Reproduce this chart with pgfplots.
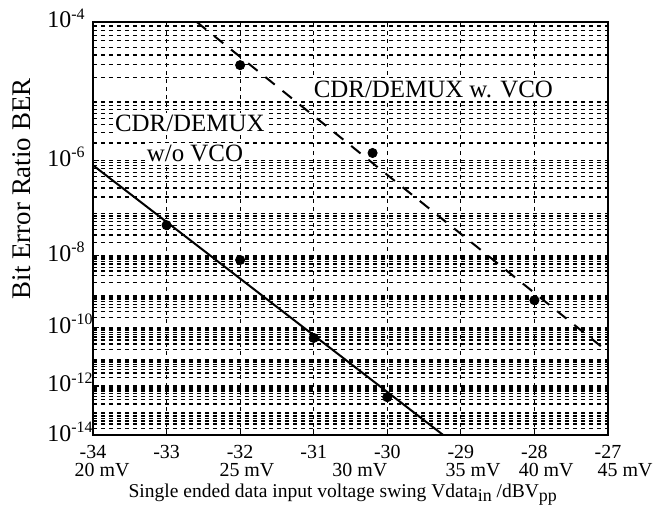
\documentclass[border=0pt]{standalone}
\usepackage{fontspec}
\setmainfont{Liberation Serif}
\usepackage{pgfplots}
\pgfplotsset{compat=1.18}

% minor grid: log10(k)+n for k=2..9, decades 1e-14 .. 1e-5
\def\minorlist{}
\foreach \n in {-14,...,-5}{%
  \foreach \k in {0.30103,0.47712,0.60206,0.69897,0.77815,0.84510,0.90309,0.95424}{%
    \pgfmathsetmacro\v{\n+\k}%
    \xdef\minorlist{\minorlist\v,}}}

\begin{document}
\begin{tikzpicture}
\useasboundingbox (-46.5bp,-36.5bp) rectangle (286bp,217.5bp);
\begin{axis}[
  scale only axis,
  width=257.5bp, height=206.5bp,
  xmin=-34, xmax=-27,
  ymin=-14, ymax=-4,
  % y holds log10(BER); axis is linear in ln(-log10(BER)-0.5)
  y coord trafo/.code={\pgfmathparse{-ln(-(#1)-0.5)}},
  y coord inv trafo/.code={\pgfmathparse{-exp(-(#1))-0.5}},
  xtick={-34,-33,-32,-31,-30,-29,-28,-27},
  xticklabels={-34,-33,-32,-31,-30,-29,-28,-27},
  ytick={-14,-12,-10,-8,-6,-4},
  yticklabels={10\textsuperscript{-14},10\textsuperscript{-12},10\textsuperscript{-10},10\textsuperscript{-8},10\textsuperscript{-6},10\textsuperscript{-4}},
  minor ytick/.expanded={\minorlist-4},
  grid=both,
  major grid style={black, line width=0.6bp, dash pattern=on 2bp off 2bp},
  minor grid style={black, line width=0.6bp, dash pattern=on 2bp off 2bp},
  axis line style={black, line width=1bp},
  tick pos=left, tick align=inside,
  major tick length=3bp, minor tick length=0pt,
  tick style={black, line width=0.6bp},
  xticklabel style={font=\fontsize{10}{12}\selectfont, anchor=north, inner sep=0pt, yshift=-4.9bp},
  yticklabel style={font=\fontsize{12}{14}\selectfont, anchor=base west, inner sep=0pt, xshift=-23bp, yshift=-3bp},
  clip mode=individual,
]
% fitted lines
\addplot[black, line width=1bp] coordinates {(-34,-6.09) (-29.24,-14)};
\addplot[black, line width=1bp, dash pattern=on 6bp off 5bp] coordinates {(-32.59,-4) (-27,-10.79)};
% measured points
\addplot[only marks, mark=*, mark size=2.3bp, black] coordinates {(-33,-7.30) (-32,-8.12) (-31,-10.33) (-30,-12.43)};
\addplot[only marks, mark=*, mark size=2.3bp, black] coordinates {(-32,-4.53) (-30.2,-5.87) (-28,-9.19)};

\node[anchor=base, fill=white, inner sep=1bp, font=\fontsize{12.5}{15}\selectfont] at (rel axis cs:0.661,0.818) {CDR/DEMUX w. VCO};
\node[anchor=base, fill=white, inner sep=1bp, font=\fontsize{12.5}{15}\selectfont] at (rel axis cs:0.188,0.734) {CDR/DEMUX};
\node[anchor=base, fill=white, inner sep=1bp, font=\fontsize{12.5}{15}\selectfont] at (rel axis cs:0.198,0.663) {w/o VCO};

% mV scale under the dB ticks
\node[anchor=base, inner sep=0pt, font=\fontsize{10}{12}\selectfont] at ([yshift=-20.5bp]rel axis cs:0.0175,0) {20 mV};
\node[anchor=base, inner sep=0pt, font=\fontsize{10}{12}\selectfont] at ([yshift=-20.5bp]rel axis cs:0.299,0) {25 mV};
\node[anchor=base, inner sep=0pt, font=\fontsize{10}{12}\selectfont] at ([yshift=-20.5bp]rel axis cs:0.518,0) {30 mV};
\node[anchor=base, inner sep=0pt, font=\fontsize{10}{12}\selectfont] at ([yshift=-20.5bp]rel axis cs:0.738,0) {35 mV};
\node[anchor=base, inner sep=0pt, font=\fontsize{10}{12}\selectfont] at ([yshift=-20.5bp]rel axis cs:0.880,0) {40 mV};
\node[anchor=base, inner sep=0pt, font=\fontsize{10}{12}\selectfont] at ([yshift=-20.5bp]rel axis cs:1.033,0) {45 mV};
\node[anchor=base, inner sep=0pt, font=\fontsize{9.8}{12}\selectfont] at ([yshift=-31bp]rel axis cs:0.485,0)
  {Single ended data input voltage swing Vdata\raisebox{-0.5ex}{\fontsize{9}{10}\selectfont in} /dBV\raisebox{-0.5ex}{\fontsize{9}{10}\selectfont pp}};
\node[rotate=90, anchor=center, inner sep=0pt, font=\fontsize{13.5}{16}\selectfont] at ([xshift=-35.5bp]rel axis cs:0,0.596) {Bit Error Ratio BER};
\end{axis}
\end{tikzpicture}
\end{document}
